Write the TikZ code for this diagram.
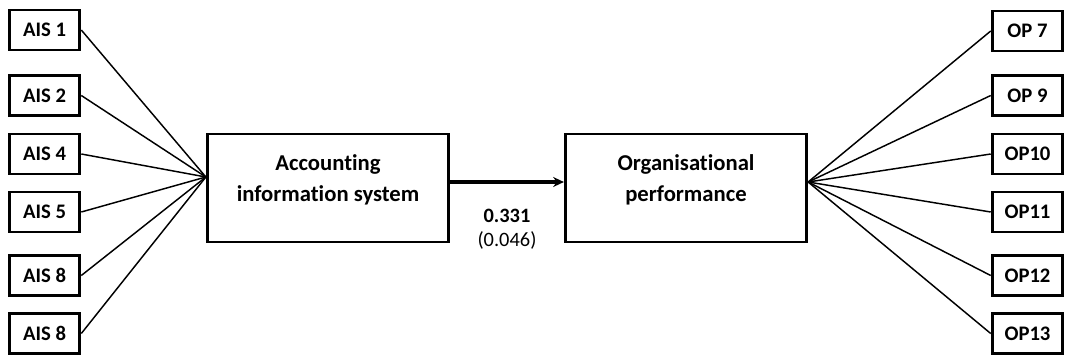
\documentclass[tikz,border=0pt]{standalone}
\usepackage{fontspec}
\setmainfont[Ligatures=NoCommon]{Carlito}
\usetikzlibrary{arrows.meta,calc,positioning}
\tikzset{
    sem diagram/.style = {x=0.75pt, y=-0.75pt,
                          >={Stealth[length=8pt, width=7.5pt]}},
    item/.style        = {draw, line width=2.2pt, fill=white, inner sep=0pt,
                          minimum width=53pt, minimum height=30pt,
                          font=\fontsize{15.5}{18}\selectfont\bfseries},
    construct/.style   = {draw, line width=2.2pt, fill=white, align=center,
                          minimum width=181pt, minimum height=81pt,
                          text depth=15pt,
                          font=\fontsize{17}{23}\selectfont\bfseries},
    loading/.style     = {line width=1.1pt},
    effect/.style      = {->, line width=2.4pt},
    coef/.style        = {align=center, font=\fontsize{15.3}{18}\selectfont}
}
\def\leftcol{44.5}
\def\rightcol{1027.5}

\begin{document}
\begin{tikzpicture}[sem diagram]
\useasboundingbox (0,0) rectangle (1070,357);
% Indicators of the two constructs and the structural path between them.
\coordinate (origin) at (0,0);
\node[construct] (ais) at ($(origin)+(328,188)$)
  {Accounting\\information system};
\node[construct] (op) at ($(origin)+(686,188)$)
  {Organisational\\performance};
\coordinate (ais hub) at ($(ais.west)+(0,-11)$);
\coordinate (op hub) at ($(op.east)+(0,-6)$);

% Accounting information system items.
\node[item] (ais1) at ($(origin)+(\leftcol,30)$) {AIS 1};
\node[item] (ais2) at ($(origin)+(\leftcol,95.5)$) {AIS 2};
\node[item] (ais4) at ($(origin)+(\leftcol,154)$) {AIS 4};
\node[item] (ais5) at ($(origin)+(\leftcol,212)$) {AIS 5};
\node[item] (ais8a) at ($(origin)+(\leftcol,275.5)$) {AIS 8};
\node[item] (ais8b) at ($(origin)+(\leftcol,333.5)$) {AIS 8};
\draw[loading] (ais1.east) -- (ais hub);
\draw[loading] (ais2.east) -- (ais hub);
\draw[loading] (ais4.east) -- (ais hub);
\draw[loading] (ais5.east) -- (ais hub);
\draw[loading] (ais8a.east) -- (ais hub);
\draw[loading] (ais8b.east) -- (ais hub);

% Organisational performance items.
\node[item] (op7) at ($(origin)+(\rightcol,31)$) {OP 7};
\node[item] (op9) at ($(origin)+(\rightcol,95.5)$) {OP 9};
\node[item] (op10) at ($(origin)+(\rightcol,154)$) {OP10};
\node[item] (op11) at ($(origin)+(\rightcol,212)$) {OP11};
\node[item] (op12) at ($(origin)+(\rightcol,275.5)$) {OP12};
\node[item] (op13) at ($(origin)+(\rightcol,333.5)$) {OP13};
\draw[loading] (op hub) -- (op7.west);
\draw[loading] (op hub) -- (op9.west);
\draw[loading] (op hub) -- (op10.west);
\draw[loading] (op hub) -- (op11.west);
\draw[loading] (op hub) -- (op12.west);
\draw[loading] (op hub) -- (op13.west);

% Path coefficient with its standard error.
\coordinate (path start) at ($(ais.east)+(0,-6)$);
\coordinate (path end) at ($(op.west)+(0,-6)$);
\draw[effect] (path start) -- node[coef, below=16pt] (beta)
  {\textbf{0.331}\\(0.046)} (path end);

\end{tikzpicture}
\end{document}
